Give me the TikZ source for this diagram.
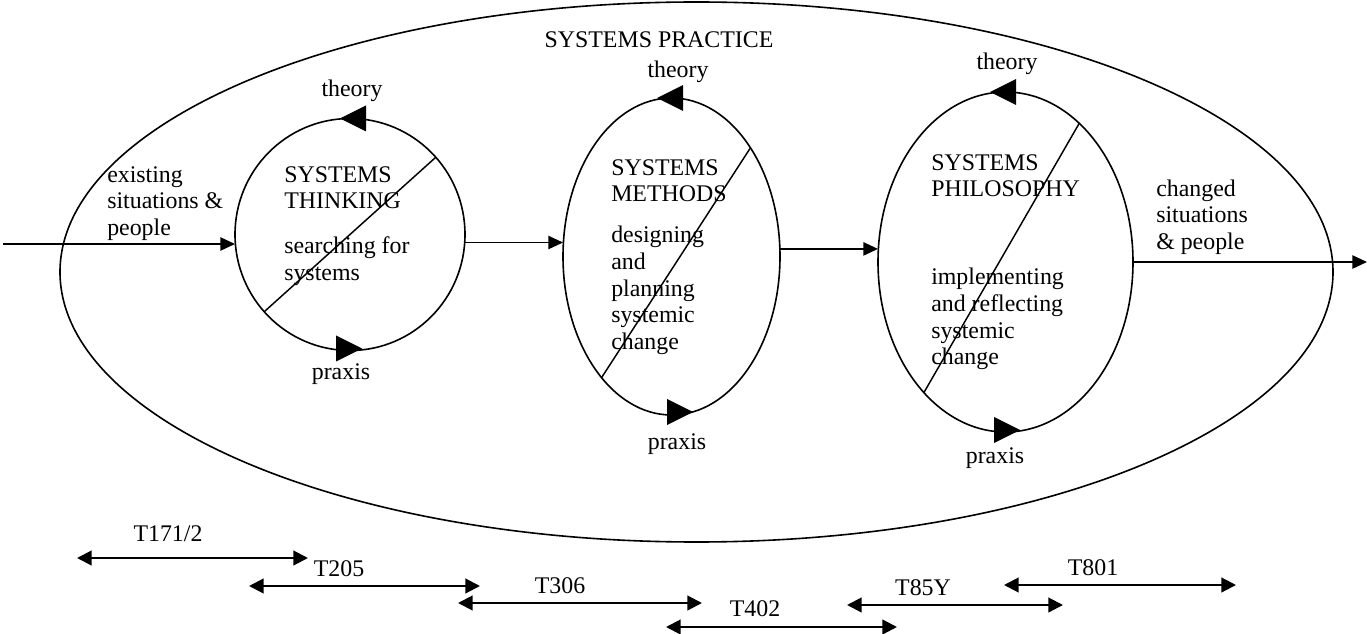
\documentclass[tikz,border=0pt]{standalone}
\usepackage{fontspec}
\setmainfont{Liberation Serif}
\usetikzlibrary{shapes.geometric,arrows.meta,calc}
\begin{document}
\begin{tikzpicture}[x=0.75pt,y=-0.75pt,
  every node/.style={font=\fontsize{17.9pt}{20pt}\selectfont, inner sep=0pt},
  oval/.style={draw, ellipse, line width=1.2pt, inner sep=0pt, outer sep=0pt},
  arr/.style={line width=1.1pt, -{Triangle[length=11pt,width=10pt]}},
  span/.style={line width=1.6pt, {Triangle[length=11pt,width=11pt]}-{Triangle[length=11pt,width=11pt]}},
  head/.style={fill=black},
  txt/.style={anchor=north west, align=left},
  lab/.style={anchor=base},
  slash/.style={line width=1.1pt},
]
\useasboundingbox (0,0) rectangle (1367,634);

% outer ellipse
\node[oval, minimum width=954.75pt, minimum height=405pt] (practice) at (696.5,272) {};
\node[lab] (ptitle) at (659,48) {SYSTEMS PRACTICE};

% three cycles
\node[oval, minimum width=172.5pt, minimum height=174pt] (c1) at (350,234.5) {};
\node[oval, minimum width=162.75pt, minimum height=237.75pt] (c2) at (671.5,256.5) {};
\node[oval, minimum width=191.25pt, minimum height=255pt] (c3) at (1005.5,262) {};

% diagonals
\draw[slash] (c1.42.6) -- (c1.222.3);
\draw[slash] (c2.54.3) -- (c2.240.6);
\draw[slash] (c3.62.3) -- (c3.238.8);

% arrow heads on cycles
\fill[head] ($(c1.north)+(-10,0)$) -- ++(26,-13) -- ++(0,26) -- cycle;
\fill[head] ($(c1.south)+(12,-2)$) -- ++(-26,-13) -- ++(0,26) -- cycle;
\fill[head] ($(c2.north)+(-14.5,0)$) -- ++(26,-13) -- ++(0,26) -- cycle;
\fill[head] ($(c2.south)+(21.5,-3)$) -- ++(-26,-13) -- ++(0,26) -- cycle;
\fill[head] ($(c3.north)+(-15.5,0)$) -- ++(26,-13) -- ++(0,26) -- cycle;
\fill[head] ($(c3.south)+(14.5,-2)$) -- ++(-26,-13) -- ++(0,26) -- cycle;

% theory / praxis labels
\node[lab] (th1) at (352,97) {theory};
\node[lab] (pr1) at (341,380) {praxis};
\node[lab] (th2) at (678,78) {theory};
\node[lab] (pr2) at (677,450) {praxis};
\node[lab] (th3) at (1007,70) {theory};
\node[lab] (pr3) at (995,463) {praxis};

% texts inside cycles
\node[txt] (t1) at (284,163.3) {\strut SYSTEMS\\\strut THINKING\\[13.7pt]\strut searching for\\\strut systems};
\node[txt] (t2) at (611,156.3) {\strut SYSTEMS\\\strut METHODS\\[10.7pt]\strut designing\\\strut and\\\strut planning\\\strut systemic\\\strut change};
\node[txt] (t3) at (931,151.3) {\strut SYSTEMS\\\strut PHILOSOPHY\\[46pt]\strut implementing\\\strut and reflecting\\\strut systemic\\\strut change};

% in / out texts
\node[txt] (inTxt) at (107,163.3) {\strut existing\\\strut situations \&\\\strut people};
\node[txt] (outTxt) at (1156,177.3) {\strut changed\\\strut situations\\\strut \& people};

% main flow
\coordinate (src) at (3,244);
\coordinate (sink) at (1367,261);
\draw[arr] (src) -- (src -| c1.west);
\draw[arr] (c1.356) -- (c1.356 -| c2.west);
\draw[arr] (c2.4) -- (c2.4 -| c3.west);
\draw[arr] (c3.east) -- (c3.east -| sink);

% course spans
\coordinate (a1) at (77,558);   \coordinate (b1) at (308,558);
\coordinate (a2) at (249,586);  \coordinate (b2) at (480,586);
\coordinate (a3) at (458,603);  \coordinate (b3) at (702,603);
\coordinate (a4) at (666,627);  \coordinate (b4) at (897,627);
\coordinate (a5) at (847,605);  \coordinate (b5) at (1063,605);
\coordinate (a6) at (1004,585); \coordinate (b6) at (1236,585);
\draw[span] (a1) -- (b1);
\draw[span] (a2) -- (b2);
\draw[span] (a3) -- (b3);
\draw[span] (a4) -- (b4);
\draw[span] (a5) -- (b5);
\draw[span] (a6) -- (b6);
\node[lab] (l1) at (168,541) {T171/2};
\node[lab] (l2) at (339,576) {T205};
\node[lab] (l3) at (560,593) {T306};
\node[lab] (l4) at (755,616) {T402};
\node[lab] (l5) at (923,595) {T85Y};
\node[lab] (l6) at (1093,575) {T801};
\end{tikzpicture}
\end{document}
